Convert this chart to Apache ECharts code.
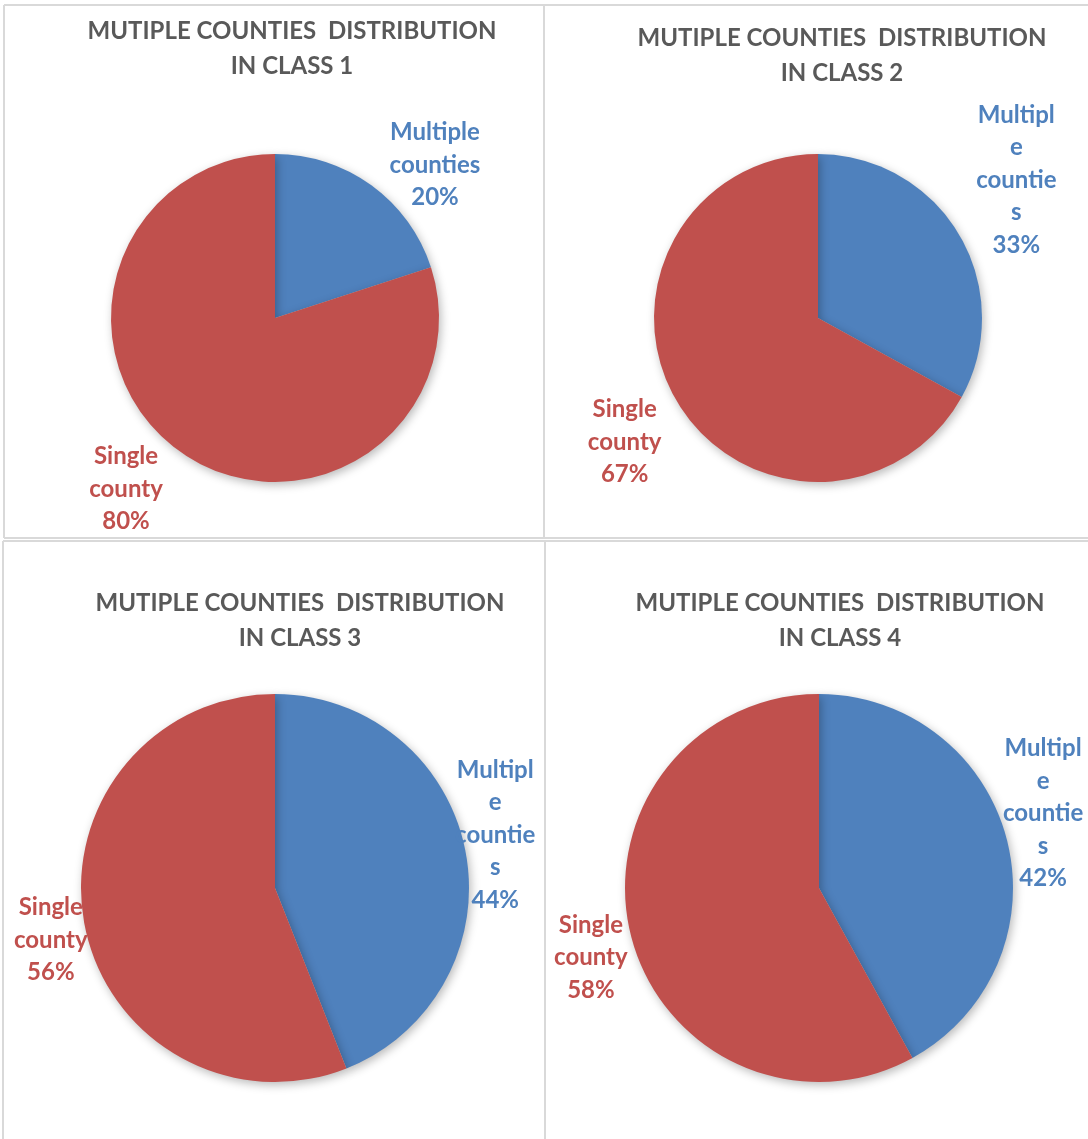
<!DOCTYPE html>
<html>
<head>
<meta charset="utf-8">
<script src="https://cdn.jsdelivr.net/npm/echarts@6/dist/echarts.min.js"></script>
<style>
  html, body { margin: 0; padding: 0; background: #ffffff; }
  #chart { width: 1088px; height: 1139px; }
</style>
</head>
<body>
<div id="chart"></div>
<script>
// Share of records spanning multiple counties vs. a single county, per class
const categories = ['Multiple counties', 'Single county'];
const classNames = ['CLASS 1', 'CLASS 2', 'CLASS 3', 'CLASS 4'];
const multipleCounties = [20, 33, 44, 42];
const singleCounty = [80, 67, 56, 58];
// Slice label text (wrapped the way the narrow label boxes wrap it)
const multipleLabelText = ['Multiple\ncounties', 'Multipl\ne\ncountie\ns', 'Multipl\ne\ncountie\ns', 'Multipl\ne\ncountie\ns'];
const singleLabelText = ['Single\ncounty', 'Single\ncounty', 'Single\ncounty', 'Single\ncounty'];

const BLUE = '#4F81BD';
const RED = '#C0504D';
const GREY_TEXT = '#595959';
const FONT = 'Lato, "Open Sans", sans-serif';

// Panel geometry: pie centre, radius, title anchor, label line lengths,
// and small per-label nudges [multiple, single] applied after layout
const panels = [
  { cx: 275, cy: 318, r: 164, tx: 292, ty: 14, len: 35, len2: 35, nudge: [[8, 8], [3, 10]] },
  { cx: 818, cy: 318, r: 164, tx: 842, ty: 21, len: 42, len2: 25, nudge: [[-4, -33], [9, 19]] },
  { cx: 275, cy: 888, r: 194, tx: 300, ty: 586, len: 20, len2: 15, nudge: [[-5, -13], [1, 12]] },
  { cx: 819, cy: 888, r: 194, tx: 840, ty: 586, len: 25, len2: 15, nudge: [[-3, -20], [-1, 15]] }
];

const titles = panels.map((p, i) => ({
  text: 'MUTIPLE COUNTIES  DISTRIBUTION\nIN ' + classNames[i],
  left: p.tx,
  top: p.ty,
  padding: 0,
  textAlign: 'center',
  textStyle: {
    color: GREY_TEXT,
    fontFamily: FONT,
    fontWeight: 'bold',
    fontSize: 24,
    lineHeight: 35
  }
}));

const series = panels.map((p, i) => ({
  type: 'pie',
  center: [p.cx, p.cy],
  radius: [0, p.r],
  startAngle: 90,
  clockwise: true,
  avoidLabelOverlap: false,
  silent: true,
  animation: false,
  itemStyle: {
    shadowBlur: 10,
    shadowColor: 'rgba(0,0,0,0.28)',
    shadowOffsetX: 2,
    shadowOffsetY: 3
  },
  label: {
    show: true,
    position: 'outside',
    fontFamily: FONT,
    fontWeight: 'bold',
    fontSize: 24,
    lineHeight: 32.5,
    align: 'center',
    distanceToLabelLine: 0
  },
  labelLine: { show: false, length: p.len, length2: p.len2 },
  labelLayout: (params) => {
    const n = p.nudge[params.dataIndex];
    return { align: 'center', dx: n[0], dy: n[1] };
  },
  data: [
    {
      name: categories[0],
      value: multipleCounties[i],
      itemStyle: { color: BLUE },
      label: { color: BLUE, formatter: multipleLabelText[i] + '\n{d}%' }
    },
    {
      name: categories[1],
      value: singleCounty[i],
      itemStyle: { color: RED },
      label: { color: RED, formatter: singleLabelText[i] + '\n{d}%' }
    }
  ]
}));

// Panel frame lines
const LINE = { stroke: '#D9D9D9', lineWidth: 2 };
const frame = [
  [4, 5, 1088, 5],
  [4, 5, 4, 538],
  [544, 5, 544, 538],
  [4, 538, 1088, 538],
  [3, 541, 1088, 541],
  [3, 541, 3, 1139],
  [545, 541, 545, 1139]
].map(([x1, y1, x2, y2]) => ({
  type: 'line',
  shape: { x1, y1, x2, y2 },
  style: LINE,
  silent: true
}));

const chart = echarts.init(document.getElementById('chart'), null, { renderer: 'canvas' });
chart.setOption({
  backgroundColor: '#ffffff',
  animation: false,
  title: titles,
  graphic: frame,
  series: series
});
</script>
</body>
</html>
